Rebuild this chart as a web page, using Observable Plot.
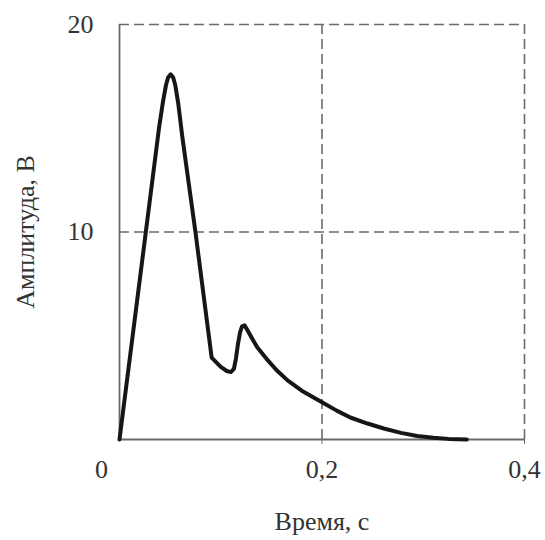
<!DOCTYPE html>
<html>
<head>
<meta charset="utf-8">
<script src="https://cdn.jsdelivr.net/npm/d3@7"></script>
<script src="https://cdn.jsdelivr.net/npm/@observablehq/plot@0.6"></script>
<style>
  body { margin: 0; background: #fff; }
  #chart svg { font-family: "Liberation Serif", "Times New Roman", serif; }
</style>
</head>
<body>
<div id="chart"></div>
<script>
// Time, s
const time = [0, 0.026, 0.039, 0.043, 0.046, 0.048, 0.0505, 0.053, 0.055, 0.058, 0.062, 0.075, 0.091,
  0.1, 0.106, 0.110, 0.113, 0.115, 0.117, 0.119, 0.121, 0.1235, 0.126, 0.130, 0.136, 0.145, 0.155, 0.166,
  0.18, 0.2, 0.215, 0.228, 0.245, 0.261, 0.278, 0.294, 0.31, 0.325, 0.343];
// Amplitude, V
const amplitude = [0, 10, 15, 16.3, 17.1, 17.45, 17.6, 17.45, 17.1, 16.2, 14.6, 10, 3.95,
  3.5, 3.3, 3.25, 3.4, 3.9, 4.6, 5.15, 5.45, 5.5, 5.3, 4.95, 4.45, 3.9, 3.35, 2.85,
  2.35, 1.8, 1.38, 1.06, 0.77, 0.53, 0.32, 0.17, 0.08, 0.03, 0.0];
const xTicks = [0.2, 0.4];
const yTicks = [10, 20];
const xLabel = "Время, с";
const yLabel = "Амплитуда, В";

const data = time.map((t, i) => ({t, a: amplitude[i]}));
const fmt = d => String(d).replace(".", ",");
const frameColor = "#6a6a6a";
const dash = "10,5";

const chart = Plot.plot({
  width: 545,
  height: 540,
  marginLeft: 119,
  marginRight: 21,
  marginTop: 24,
  marginBottom: 101,
  style: {fontFamily: "Liberation Serif, serif", fontSize: "26px", color: "#333", background: "#fff"},
  x: {domain: [0, 0.4]},
  y: {domain: [0, 20]},
  marks: [
    Plot.ruleX([0.2, 0.4], {stroke: frameColor, strokeWidth: 1.6, strokeDasharray: dash}),
    Plot.ruleY([10, 20], {stroke: frameColor, strokeWidth: 1.6, strokeDasharray: dash}),
    Plot.ruleX([0], {stroke: frameColor, strokeWidth: 1.8}),
    Plot.ruleY([0], {stroke: frameColor, strokeWidth: 1.8}),
    Plot.axisX({ticks: xTicks, tickFormat: fmt, tickSize: 5, tickPadding: 15, stroke: frameColor,
      label: xLabel, labelAnchor: "center", labelOffset: 90, labelArrow: "none", fill: "#333"}),
    Plot.axisX({ticks: [0], tickFormat: fmt, tickSize: 0, tickPadding: 20, dx: -18, label: null, fill: "#333"}),
    Plot.axisY({ticks: yTicks, tickSize: 0, tickPadding: 26,
      label: yLabel, labelAnchor: "center", labelOffset: 104, labelArrow: "none", fill: "#333"}),
    Plot.line(data, {x: "t", y: "a", stroke: "#161616", strokeWidth: 4, curve: "linear", strokeLinejoin: "round"})
  ]
});
document.getElementById("chart").appendChild(chart);
</script>
</body>
</html>
